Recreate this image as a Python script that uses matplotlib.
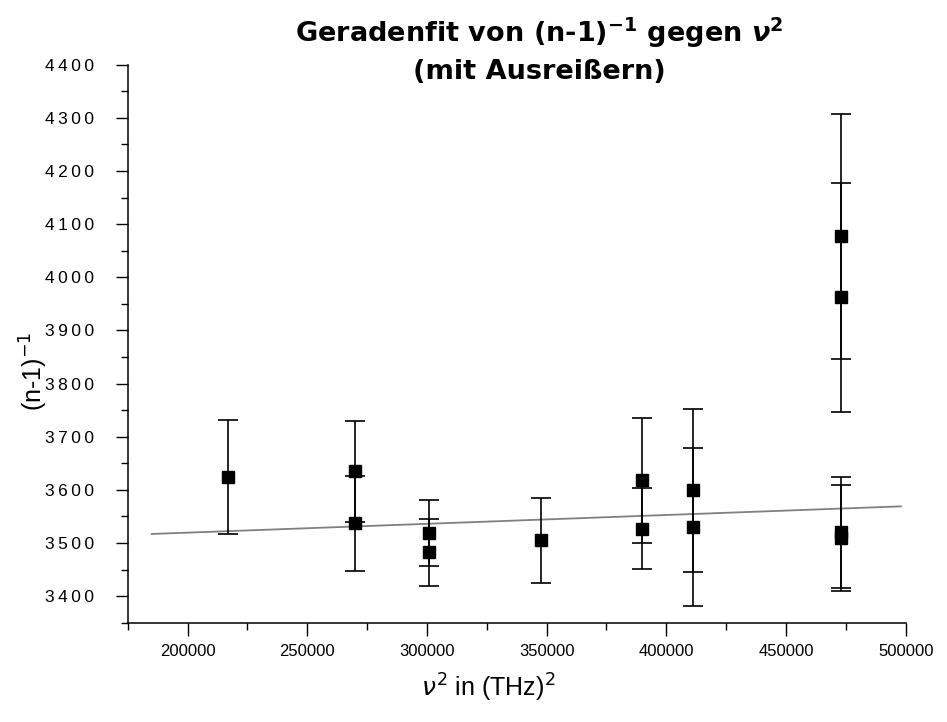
import numpy as np
import matplotlib
matplotlib.use("Agg")
import matplotlib.pyplot as plt
from matplotlib.ticker import MultipleLocator, FuncFormatter

# data
nu2 = [217000, 270000, 270000, 301000, 301000, 347500, 390000, 390000,
       411000, 411000, 473000, 473000, 473000, 473000]
n_inv = [3624, 3635, 3537, 3519, 3483, 3505, 3618, 3527,
         3599, 3530, 4077, 3962, 3520, 3510]
n_err = [107, 95, 90, 62, 63, 80, 118, 76,
         154, 148, 230, 216, 104, 100]

# linear fit (intercept, slope) and drawn range
fit_a = 3486.3
fit_b = 1.66e-4
fit_range = [185000, 498000]

plt.rcParams["font.family"] = ["Liberation Sans", "DejaVu Sans"]

fig = plt.figure(figsize=(9.47, 7.22), dpi=100)
ax = fig.add_axes([0.1349, 0.1375, 0.8215, 0.7729])

# fit line
fx = np.array(fit_range, dtype=float)
ax.plot(fx, fit_a + fit_b * fx, color="#808080", lw=1.3, zorder=1)

# data with error bars
ax.errorbar(nu2, n_inv, yerr=n_err, fmt="s", color="black", ecolor="black",
            markersize=8.5, elinewidth=1.2, capsize=7.5, capthick=1.2, zorder=2)

ax.set_xlim(175000, 500000)
ax.set_ylim(3350, 4400)
ax.xaxis.set_major_locator(MultipleLocator(50000))
ax.xaxis.set_minor_locator(MultipleLocator(25000))
ax.yaxis.set_major_locator(MultipleLocator(100))
ax.yaxis.set_minor_locator(MultipleLocator(50))
ax.xaxis.set_major_formatter(FuncFormatter(lambda v, p: "%d" % v))
# spaced digits like the original
ax.yaxis.set_major_formatter(FuncFormatter(lambda v, p: "\u2009".join("%d" % v)))

for s in ["top", "right"]:
    ax.spines[s].set_visible(False)
for s in ["left", "bottom"]:
    ax.spines[s].set_linewidth(1.1)

ax.tick_params(which="major", direction="out", length=9, width=1.0, labelsize=12, pad=6)
ax.tick_params(which="minor", direction="out", length=5, width=1.0)
ax.tick_params(axis="y", labelsize=12.5, pad=15)

# axis labels
ax.set_xlabel(r"$\nu^2$ in (THz)$^2$", fontsize=18)
ax.xaxis.set_label_coords(0.463, -0.088)
ax.set_ylabel(r"(n-1)$^{-1}$", fontsize=18)
ax.yaxis.set_label_coords(-0.10, 0.45)

# title (two lines, bold)
fig.text(0.57, 0.955, r"Geradenfit von (n-1)$^{\mathbf{-1}}$ gegen $\boldsymbol{\nu}^{\mathbf{2}}$",
         ha="center", va="center", fontsize=19.5, fontweight="bold", family="DejaVu Sans")
fig.text(0.57, 0.900, "(mit Ausreißern)",
         ha="center", va="center", fontsize=19.5, fontweight="bold", family="DejaVu Sans")

plt.savefig("out.png", dpi=100)
